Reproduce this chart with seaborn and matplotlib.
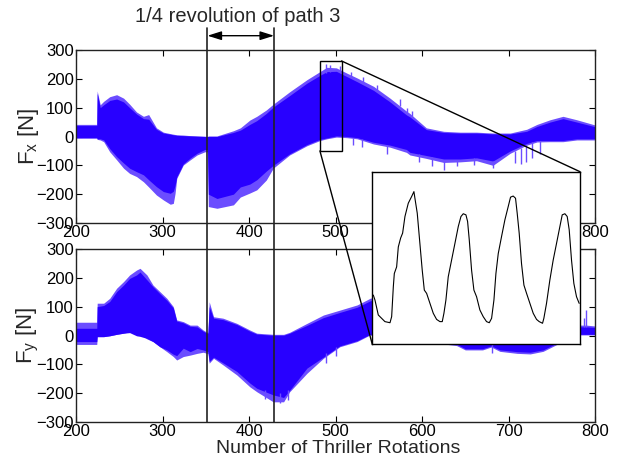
import numpy as np
import pandas as pd
import matplotlib
matplotlib.use("Agg")
import matplotlib.pyplot as plt
import matplotlib.transforms as mtransforms
from matplotlib.patches import Rectangle, ConnectionPatch
from matplotlib.lines import Line2D
import seaborn as sns

# ---------------- data ----------------
# Fx envelope (top panel)
fx_x = [200, 224, 224.5, 228, 232, 239, 247, 255, 262, 270, 278, 284, 293, 301, 309, 312.5, 314.5, 316.5,
        324, 332, 340, 349, 352, 353, 363, 382, 390, 401, 409, 420, 428, 447, 467, 482, 490, 501, 513, 525,
        544, 563, 582, 586, 605, 625, 644, 663, 682, 702, 721, 733, 748, 763, 779, 800]
fx_hi_out = [42, 42, 158, 110, 122, 138, 145, 133, 112, 85, 70, 76, 30, 15, 10, 8, 7, 6,
             5, 3, 2, 1, 0, 2, 2, 20, 30, 57, 70, 92, 112, 155, 197, 225, 240, 238, 220, 203,
             174, 133, 88, 80, 30, 18, 15, 15, 12, 12, 25, 42, 58, 70, 58, 40]
fx_hi_in = [38, 38, 150, 100, 110, 125, 130, 120, 100, 78, 62, 60, 25, 12, 8, 6, 5, 4,
            3, 2, 1, 0, 0, 0, 0, 14, 22, 42, 55, 80, 102, 142, 185, 212, 225, 226, 208, 190,
            160, 120, 75, 68, 24, 14, 12, 12, 9, 9, 18, 35, 50, 62, 50, 34]
fx_lo_in = [-4, -4, -8, -8, -12, -42, -70, -92, -110, -122, -133, -150, -174, -191, -197, -190, -170, -140,
            -95, -75, -58, -45, -45, -200, -215, -200, -175, -165, -150, -120, -100, -60, -28, -10, -5, 2, 0, -4,
            -20, -30, -45, -55, -66, -78, -78, -74, -85, -50, -24, -14, -14, -14, -8, -8]
fx_lo_out = [-6, -6, -10, -12, -18, -53, -81, -110, -128, -139, -157, -175, -203, -220, -235, -232, -198, -145,
             -99, -81, -64, -53, -53, -243, -249, -237, -210, -196, -185, -151, -110, -64, -32, -14, -8, -2, -4, -8,
             -26, -37, -55, -64, -76, -90, -88, -84, -100, -58, -30, -19, -18, -18, -12, -12]
# isolated spikes in Fx
fx_spike_x = [520, 531, 560, 596, 611, 625, 640, 660, 682, 708, 714, 720, 727, 736]
fx_spike_lo = [-30, -36, -62, -88, -102, -116, -104, -98, -110, -92, -96, -88, -76, -60]
fx_spike_hi = [-5, -10, -30, -60, -70, -80, -80, -75, -85, -50, -40, -30, -20, -15]
fx_lspike_x = [489, 494, 505, 518, 532, 548, 574, 583, 588]
fx_lspike_lo = [220, 225, 225, 205, 185, 160, 105, 80, 70]
fx_lspike_hi = [250, 248, 245, 225, 205, 180, 130, 98, 88]

# Fy envelope (bottom panel)
fy_x = [200, 224, 224.5, 232, 239, 247, 255, 262, 270, 274, 282, 289, 297, 305, 312.5, 316.4, 324, 332, 340,
        347, 351.5, 352.5, 354, 359, 370, 386, 401, 409, 428, 440, 447, 467, 486, 505, 525, 540, 560, 600,
        640, 650, 670, 680, 690, 710, 725, 740, 760, 783, 790, 800]
fy_hi_out = [46, 46, 112, 112, 129, 164, 187, 210, 227, 233, 210, 175, 152, 129, 100, 54, 48, 36, 36,
             19, 11, 11, 117, 65, 60, 42, 19, 8, 4, 4, 11, 42, 71, 88, 106, 129, 145, 150,
             110, 90, 70, 60, 50, 40, 35, 32, 32, 36, 36, 33]
fy_hi_in = [25, 25, 100, 104, 118, 152, 175, 198, 210, 220, 193, 169, 145, 122, 95, 50, 44, 32, 30,
            15, 8, 8, 100, 60, 55, 38, 15, 5, 1, 1, 8, 35, 62, 80, 98, 120, 138, 142,
            100, 82, 62, 52, 44, 34, 30, 27, 27, 30, 30, 28]
fy_lo_in = [-21, -21, -4, -4, -1, 4, 8, 10, -1, -3, -10, -21, -39, -50, -65, -70, -44, -56, -45,
            -50, -55, -55, -90, -75, -95, -125, -165, -183, -206, -215, -190, -113, -75, -36, -18, 4, -12, -18,
            -30, -46, -46, -36, -50, -56, -58, -50, -20, 4, 4, 4]
fy_lo_out = [-31, -31, -4, -4, -1, 4, 8, 13, 12, 5, -12, -21, -39, -56, -73, -85, -73, -68, -62,
             -58, -62, -62, -96, -79, -102, -137, -178, -195, -230, -230, -195, -131, -79, -39, -21, 2, -15, -20,
             -35, -50, -50, -40, -55, -62, -64, -55, -25, 2, 2, 2]
fy_spike_x = [418, 436, 445, 489, 500, 680.5, 787, 789.6]
fy_spike_lo = [-220, -235, -225, -95, -70, -60, 30, 30]
fy_spike_hi = [-190, -200, -190, -60, -40, -30, 60, 88]

# zoomed waveform (inset), rotations vs force
wave_x = [482.12, 482.32, 482.72, 483.12, 483.52, 484.13, 484.33, 484.53, 484.65, 484.93, 485.13, 485.41,
          485.65, 485.93, 486.33, 486.73, 487.01, 487.13, 487.41, 487.73, 488.01, 488.26, 488.54, 488.94,
          489.34, 489.74, 490.14, 490.42, 490.62, 490.86, 491.14, 491.54, 491.94, 492.35, 492.67, 492.95,
          493.27, 493.47, 493.67, 493.95, 494.23, 494.55, 494.95, 495.35, 495.75, 496.08, 496.36, 496.64,
          496.88, 497.16, 497.56, 497.96, 498.36, 498.64, 498.96, 499.24, 499.44, 499.68, 499.96, 500.25,
          500.57, 500.97, 501.37, 501.77, 502.09, 502.49, 502.65, 502.97, 503.37, 503.77, 504.17, 504.58,
          504.86, 505.18, 505.46, 505.70, 505.98, 506.26, 506.58, 506.90]
wave_y = [39, 30, 3, -3, -9, -11, 0, 54, 78, 90, 126, 142,
          151, 181, 205, 217, 226, 214, 187, 132, 84, 48, 42, 24,
          6, -5, -9, -9, 6, 30, 72, 102, 132, 163, 181, 186,
          184, 172, 139, 84, 48, 36, 12, 0, -9, -11, -3, 30,
          78, 114, 145, 175, 199, 216, 218, 214, 187, 151, 96, 57,
          42, 24, 6, -5, -9, -12, -3, 24, 66, 102, 132, 163,
          184, 186, 181, 157, 102, 60, 36, 24]

yticks = [-300, -200, -100, 0, 100, 200, 300]
ytick_labels = ["\u2212300", "\u2212200", "\u2212100", "0", "100", "200", "300"]
xticks = [200, 300, 400, 500, 600, 700, 800]
path_start, path_end = 352, 429
zoom_x = (482, 507)
zoom_y = (-50, 262)

# ---------------- style ----------------
sns.set_theme(style="ticks")
plt.rcParams["font.family"] = ["Liberation Sans", "DejaVu Sans"]
plt.rcParams["mathtext.fontset"] = "custom"
plt.rcParams["mathtext.rm"] = "Liberation Sans"
plt.rcParams["mathtext.it"] = "Liberation Sans"

DARK = "#2800ff"
LIGHT = "#6b4dff"

W, H = 624, 463
fig = plt.figure(figsize=(W / 100, H / 100), dpi=100)
ax1 = fig.add_axes([76 / W, 1 - 223 / H, 519 / W, 173 / H])
ax2 = fig.add_axes([76 / W, 1 - 422 / H, 519 / W, 173 / H])

def style_axes(ax):
    ax.set_xlim(200, 800)
    ax.set_ylim(-300, 300)
    ax.set_xticks(xticks)
    ax.set_yticks(yticks)
    ax.set_yticklabels(ytick_labels)
    ax.tick_params(direction="in", top=True, right=True, length=4, width=0.8,
                   labelsize=12, pad=1.5, colors="black")
    for s in ax.spines.values():
        s.set_color("#222222")
        s.set_linewidth(1.0)
    ax.set_facecolor("white")

def draw_env(ax, x, lo_out, hi_out, lo_in, hi_in):
    df = pd.DataFrame({"x": x, "lo_out": lo_out, "hi_out": hi_out, "lo_in": lo_in, "hi_in": hi_in})
    ax.fill_between(df["x"], df["lo_out"], df["hi_out"], color=LIGHT, lw=0)
    ax.fill_between(df["x"], df["lo_in"], df["hi_in"], color=DARK, lw=0)

draw_env(ax1, fx_x, fx_lo_out, fx_hi_out, fx_lo_in, fx_hi_in)
ax1.vlines(fx_spike_x, fx_spike_lo, fx_spike_hi, color=LIGHT, lw=1.0)
ax1.vlines(fx_lspike_x, fx_lspike_lo, fx_lspike_hi, color=LIGHT, lw=1.0)
draw_env(ax2, fy_x, fy_lo_out, fy_hi_out, fy_lo_in, fy_hi_in)
ax2.vlines(fy_spike_x, fy_spike_lo, fy_spike_hi, color=LIGHT, lw=1.0)
style_axes(ax1)
style_axes(ax2)

ax1.set_ylabel(r"F$_{\mathrm{x}}$ [N]", fontsize=16)
ax2.set_ylabel(r"F$_{\mathrm{y}}$ [N]", fontsize=16)
ax1.yaxis.set_label_coords(-0.068, 0.5)
ax2.yaxis.set_label_coords(-0.068, 0.5)
ax2.set_xlabel("Number of Thriller Rotations", fontsize=14)
ax2.xaxis.set_label_coords(0.505, -0.105)

# zoom rectangle in top panel
ax1.add_patch(Rectangle((zoom_x[0], zoom_y[0]), zoom_x[1] - zoom_x[0], zoom_y[1] - zoom_y[0],
                        fill=False, ec="black", lw=1.0, zorder=5))

# inset
axin = fig.add_axes([372.3 / W, 1 - 344.3 / H, 207.7 / W, 172.6 / H], zorder=5)
sns.lineplot(x=wave_x, y=wave_y, ax=axin, color="black", lw=0.8)
axin.set_xlim(*zoom_x)
axin.set_ylim(*zoom_y)
axin.set_xticks([])
axin.set_yticks([])
axin.set_xlabel("")
axin.set_ylabel("")
axin.set_facecolor("white")
for s in axin.spines.values():
    s.set_color("black")
    s.set_linewidth(1.0)

con1 = ConnectionPatch(xyA=(zoom_x[1], zoom_y[1]), coordsA=ax1.transData,
                       xyB=(1, 1), coordsB=axin.transAxes, color="black", lw=1.0, zorder=6)
con2 = ConnectionPatch(xyA=(zoom_x[0], zoom_y[0]), coordsA=ax1.transData,
                       xyB=(0, 0), coordsB=axin.transAxes, color="black", lw=1.0, zorder=6)
fig.add_artist(con1)
fig.add_artist(con2)

# vertical lines marking the path segment
blend = mtransforms.blended_transform_factory(ax1.transData, fig.transFigure)
for xv in (path_start, path_end):
    ln = Line2D([xv, xv], [1 - 28 / H, 1 - 422 / H], transform=blend, color="#222222", lw=1.2,
                zorder=6, clip_on=False)
    fig.add_artist(ln)

ax1.annotate("", xy=(path_end, 1 - 35.7 / H), xytext=(path_start, 1 - 35.7 / H),
             xycoords=blend, textcoords=blend,
             arrowprops=dict(arrowstyle="<|-|>,head_length=0.7,head_width=0.22", lw=1.0,
                             color="black", shrinkA=0, shrinkB=0),
             annotation_clip=False)
fig.text(237.5 / W, 1 - 17 / H, "1/4 revolution of path 3", ha="center", va="center", fontsize=14.5)

fig.savefig("out.png", dpi=100)
